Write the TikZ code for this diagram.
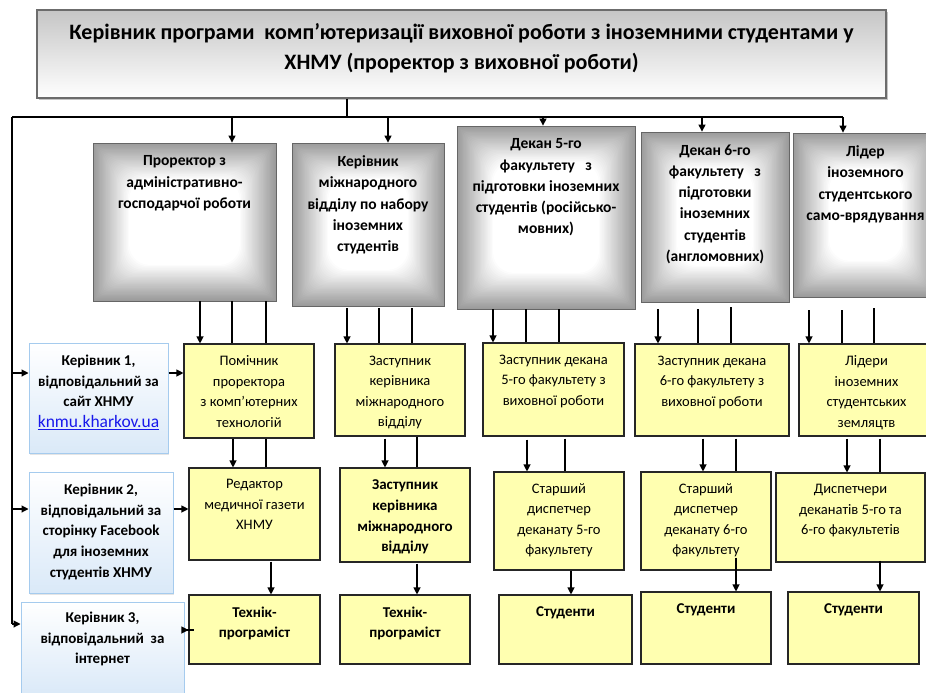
\documentclass[tikz,border=0pt]{standalone}
\usepackage{fontspec}
\setmainfont{Carlito}
\usetikzlibrary{arrows.meta,shadows}
\definecolor{ylw}{RGB}{255,255,176}
\definecolor{grb}{RGB}{155,155,155}
\definecolor{bluefill}{RGB}{218,233,248}
\definecolor{blueedge}{RGB}{165,203,238}
\definecolor{linkblue}{RGB}{25,25,235}
\tikzset{
  bx/.style 2 args={rectangle, inner sep=0pt, minimum width=#1pt, minimum height=#2pt},
  arr/.style={line width=1.1pt, -{Triangle[length=7pt,width=7pt]}},
  ln/.style={line width=1.1pt},
  tr/.style={anchor=north, inner sep=0pt, yshift=-12pt, align=center, font=\fontsize{14.5}{20.5}\selectfont},
  tb/.style={anchor=north, inner sep=0pt, yshift=-12pt, align=center, font=\fontsize{15}{20.8}\selectfont\bfseries},
  tg/.style={anchor=north, inner sep=0pt, yshift=-13pt, align=center, font=\fontsize{15.5}{21.2}\selectfont\bfseries},
  topbox/.style={draw=gray!85!black, line width=1.2pt, top color=gray!45, middle color=white, bottom color=white,
    drop shadow={shadow xshift=2pt, shadow yshift=-2pt, opacity=0.45}},
  gbox/.style={draw=gray!80!black, line width=0.8pt, fill=grb,
    path picture={
      \foreach \i in {1,...,30}{
        \pgfmathsetmacro{\w}{\i*100/30}
        \pgfmathsetmacro{\d}{\i*1.2}
        \pgfmathsetmacro{\r}{\i*0.7}
        \fill[white!\w!grb, rounded corners=\r pt]
          ([shift={(\d,\d)}]path picture bounding box.north west) rectangle
          ([shift={(-\d,-\d)}]path picture bounding box.south east);
      }
    }},
  bbox/.style={draw=blueedge, line width=1pt, top color=white, bottom color=bluefill,
    drop shadow={shadow xshift=1pt, shadow yshift=-2pt, opacity=0.2}},
  ybox/.style={draw=black!85, line width=1.1pt, fill=ylw},
}
\begin{document}
\begin{tikzpicture}[x=1pt,y=-1pt]
\useasboundingbox (0,0) rectangle (926,693);
\fill[white] (0,0) rectangle (926,693);

% top
\node[topbox, bx={849}{88},
  label={[anchor=north, inner sep=0pt, yshift=-14pt, align=center, font=\fontsize{22}{29.5}\selectfont\bfseries]north:{Керівник програми\ \ комп’ютеризації виховної роботи з іноземними студентами у\\ХНМУ (проректор з виховної роботи)}}]
  (top) at (461.5,54) {};

% gray row
\node[gbox, bx={183}{158}, label={[tg]north:{Проректор з\\адміністративно-\\господарчої роботи}}] (G1) at (184.5,222) {};
\node[gbox, bx={152}{163}, label={[tg]north:{Керівник\\міжнародного\\відділу по набору\\іноземних\\студентів}}] (G2) at (368,224.5) {};
\node[gbox, bx={178}{183}, label={[tg]north:{Декан 5-го\\факультету\ \ \ з\\підготовки\ іноземних\\студентів (російсько-\\мовних)}}] (G3) at (546,217.5) {};
\node[gbox, bx={148}{170}, label={[tg]north:{Декан 6-го\\факультету\ \ \ з\\підготовки\\іноземних\\студентів\\(англомовних)}}] (G4) at (715,217) {};
\node[gbox, bx={145}{164}, label={[tg]north:{Лідер\\іноземного\\студентського\\само-врядування}}] (G5) at (865.5,215) {};

% blue boxes
\node[bbox, bx={139}{110}, label={[tb]north:{Керівник 1,\\відповідальний за\\сайт ХНМУ\\{\fontsize{17.5}{20}\selectfont\mdseries\color{linkblue}\underline{knmu.kharkov.ua}}}}] (B1) at (98.5,398) {};
\node[bbox, bx={144}{121}, label={[tb]north:{Керівник 2,\\відповідальний за\\сторінку Facebook\\для іноземних\\студентів ХНМУ}}] (B2) at (101,532.5) {};
\node[bbox, bx={163}{93}, label={[tb, yshift=2pt]north:{Керівник 3,\\відповідальний\ \ за\\інтернет}}] (B3) at (102.5,648.5) {};

% yellow row 1
\node[ybox, bx={130}{94}, label={[tr]north:{Помічник\\проректора\\з комп’ютерних\\технологій}}] (Y1) at (249,391) {};
\node[ybox, bx={130}{92}, label={[tr]north:{Заступник\\керівника\\міжнародного\\відділу}}] (Y2) at (400,390) {};
\node[ybox, bx={141}{93}, label={[tr]north:{Заступник декана\\5-го факультету з\\виховної роботи}}] (Y3) at (553.5,389.5) {};
\node[ybox, bx={154}{92}, label={[tr]north:{Заступник декана\\6-го факультету з\\виховної роботи}}] (Y4) at (712,390) {};
\node[ybox, bx={135}{92}, label={[tr]north:{Лідери\\іноземних\\студентських\\земляцтв}}] (Y5) at (866.5,390) {};

% yellow row 2
\node[ybox, bx={131}{92}, label={[tr]north:{Редактор\\медичної газети\\ХНМУ}}] (R1) at (254.5,514) {};
\node[ybox, bx={130}{94}, label={[tb]north:{Заступник\\керівника\\міжнародного\\відділу}}] (R2) at (405,515) {};
\node[ybox, bx={130}{98}, label={[tr]north:{Старший\\диспетчер\\деканату 5-го\\факультету}}] (R3) at (559,521) {};
\node[ybox, bx={130}{98}, label={[tr]north:{Старший\\диспетчер\\деканату 6-го\\факультету}}] (R4) at (706,521) {};
\node[ybox, bx={149}{89}, label={[tr]north:{Диспетчери\\деканатів 5-го та\\6-го факультетів}}] (R5) at (850.5,517.5) {};

% yellow row 3
\node[ybox, bx={131}{69}, label={[tb]north:{Технік-\\програміст}}] (T1) at (254.5,629.5) {};
\node[ybox, bx={130}{69}, label={[tb]north:{Технік-\\програміст}}] (T2) at (405,629.5) {};
\node[ybox, bx={133}{69}, label={[tb]north:{Студенти}}] (S3) at (565.5,629.5) {};
\node[ybox, bx={130}{72}, label={[tb]north:{Студенти}}] (S4) at (706,628) {};
\node[ybox, bx={131}{72}, label={[tb]north:{Студенти}}] (S5) at (853.5,628) {};

% bus
\coordinate (bL) at (12,117);
\coordinate (bR) at (843,117);
\coordinate (bS) at (347,117);
\coordinate (lB) at (12,624);
\draw[ln] (top.south -| bS) -- (bS);
\draw[ln] (bL) -- (bR);
\draw[arr] (bL -| 232,0) -- (G1.north -| 232,0);
\draw[arr] (bL -| 388,0) -- (G2.north -| 388,0);
\draw[arr] (bL -| 543,0) -- (G3.north -| 543,0);
\draw[arr] (bL -| 702,0) -- (G4.north -| 702,0);
\draw[arr] (bR) -- (G5.north -| bR);

% left line
\draw[ln] (bL) -- (lB);
\draw[arr] (bL |- 0,373) -- (B1.west |- 0,373);
\draw[arr] (bL |- 0,509) -- (B2.west |- 0,509);
\draw[arr] (lB) -- (B3.west |- lB);
\draw[arr] (B1.east |- 0,373) -- (Y1.west |- 0,373);
\draw[arr] (B2.east |- 0,509) -- (R1.west |- 0,509);
\draw[arr, shorten <=-9pt] (B3.east |- 0,630) -- (T1.west |- 0,630);

% gray -> yellow
\draw[arr] (G1.south -| 200,0) -- (Y1.north -| 200,0);
\draw[ln] (G1.south -| 232,0) -- (Y1.north -| 232,0);
\draw[ln] (G1.south -| 266,0) -- (Y1.north -| 266,0);
\draw[arr, shorten <=2pt] (G2.south -| 347,0) -- (Y2.north -| 347,0);
\draw[ln, shorten <=2pt] (G2.south -| 379,0) -- (Y2.north -| 379,0);
\draw[ln, shorten <=2pt] (G2.south -| 412,0) -- (Y2.north -| 412,0);
\draw[arr] (G3.south -| 493,0) -- (Y3.north -| 493,0);
\draw[ln] (G3.south -| 526,0) -- (Y3.north -| 526,0);
\draw[ln] (G3.south -| 559,0) -- (Y3.north -| 559,0);
\draw[arr, shorten <=7pt] (G4.south -| 658,0) -- (Y4.north -| 658,0);
\draw[ln, shorten <=7pt] (G4.south -| 698,0) -- (Y4.north -| 698,0);
\draw[ln, shorten <=5pt] (G4.south -| 731,0) -- (Y4.north -| 731,0);
\draw[arr, shorten <=13pt] (G5.south -| 809,0) -- (Y5.north -| 809,0);
\draw[ln, shorten <=13pt] (G5.south -| 842,0) -- (Y5.north -| 842,0);
\draw[ln, shorten <=11pt] (G5.south -| 874,0) -- (Y5.north -| 874,0);

% yellow row1 -> row2
\draw[arr] (Y1.south -| 233,0) -- (R1.north -| 233,0);
\draw[ln] (Y1.south -| 266,0) -- (R1.north -| 266,0);
\draw[arr, shorten <=2pt] (Y2.south -| 385,0) -- (R2.north -| 385,0);
\draw[ln] (Y2.south -| 417,0) -- (R2.north -| 417,0);
\draw[arr, shorten <=3pt] (Y3.south -| 527,0) -- (R3.north -| 527,0);
\draw[ln, shorten <=2pt] (Y3.south -| 565,0) -- (R3.north -| 565,0);
\draw[arr, shorten <=2pt] (Y4.south -| 703,0) -- (R4.north -| 703,0);
\draw[ln, shorten <=2pt] (Y4.south -| 736,0) -- (R4.north -| 736,0);
\draw[arr, shorten <=2pt] (Y5.south -| 847,0) -- (R5.north -| 847,0);
\draw[ln, shorten <=2pt] (Y5.south -| 880,0) -- (R5.north -| 880,0);

% row2 -> row3
\draw[arr, shorten <=1pt] (R1.south -| 271,0) -- (T1.north -| 271,0);
\draw[arr, shorten <=1pt] (R2.south -| 417,0) -- (T2.north -| 417,0);
\draw[arr] (R3.south -| 571,0) -- (S3.north -| 571,0);
\draw[arr, shorten <=-13pt] (R4.south -| 736,0) -- (S4.north -| 736,0);
\draw[arr, shorten <=-2pt] (R5.south -| 880,0) -- (S5.north -| 880,0);
\end{tikzpicture}
\end{document}
